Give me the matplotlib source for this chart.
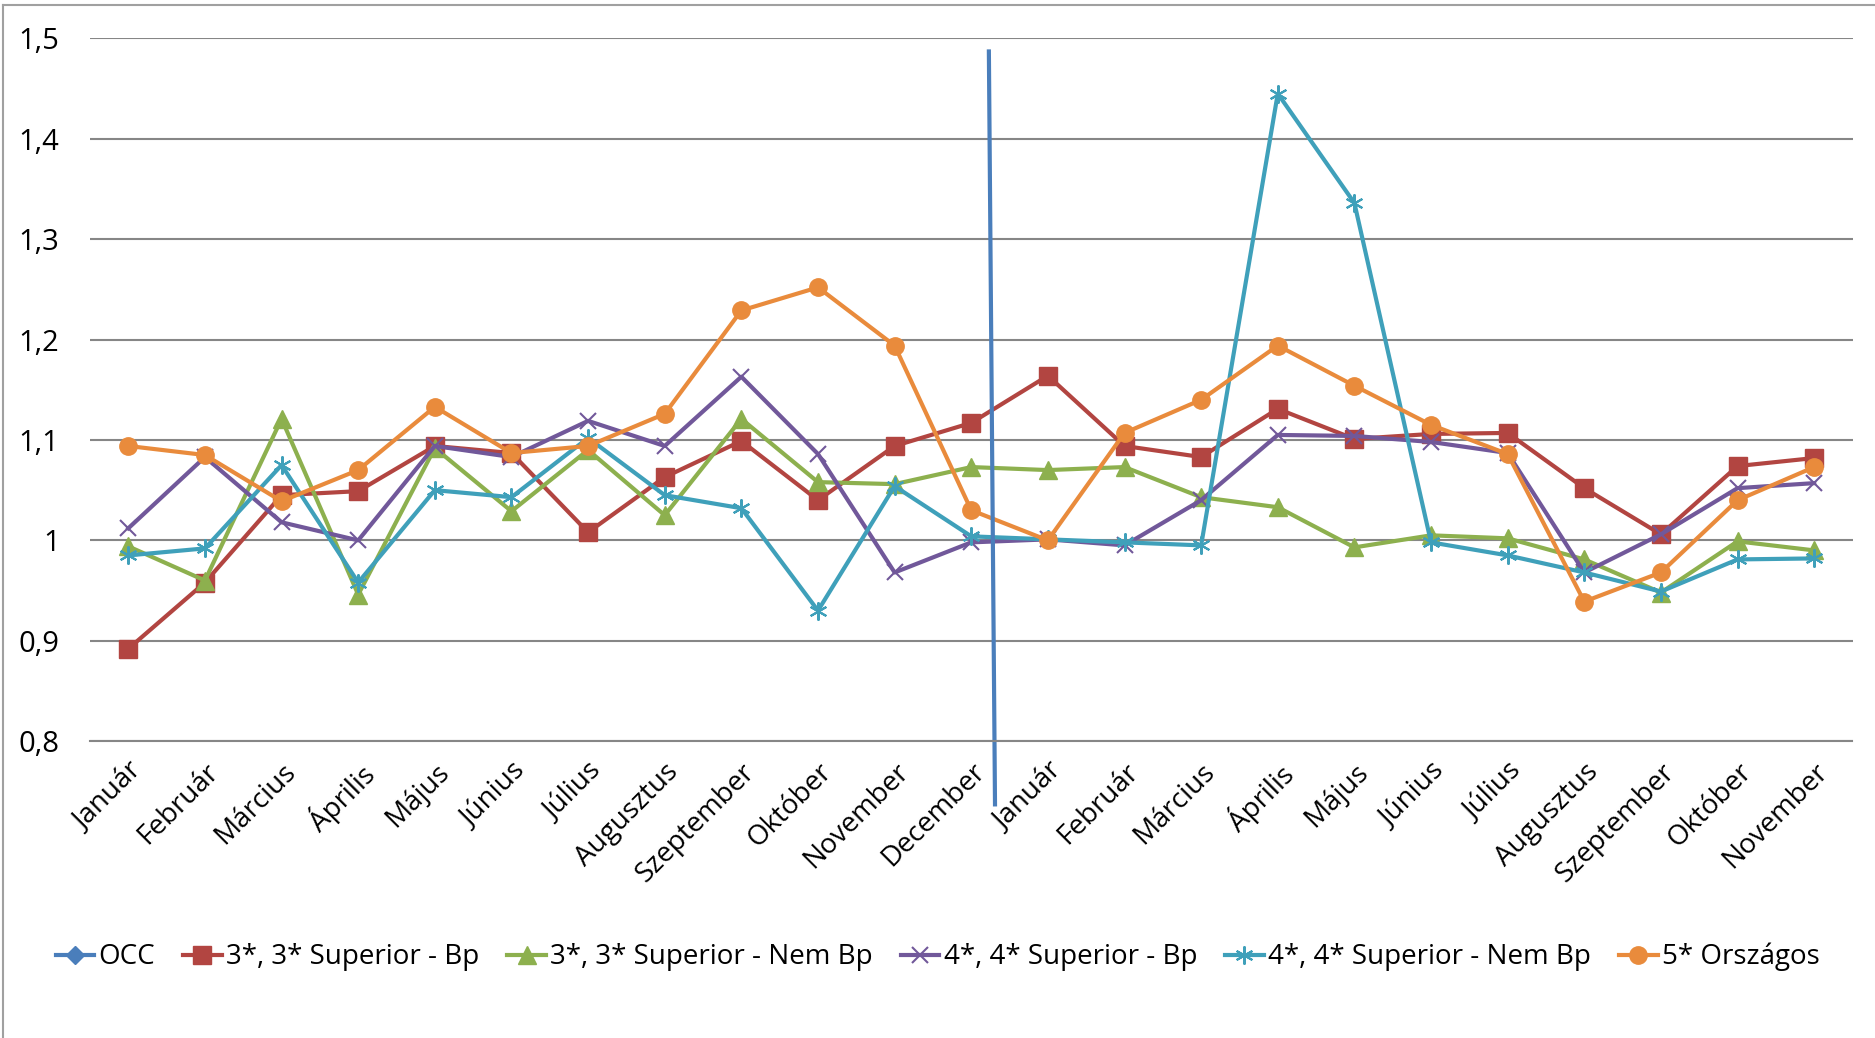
import numpy as np
import matplotlib
matplotlib.use("Agg")
import matplotlib.pyplot as plt
from matplotlib.lines import Line2D

months = ["Január", "Február", "Március", "Április", "Május", "Június", "Július",
          "Augusztus", "Szeptember", "Október", "November", "December",
          "Január", "Február", "Március", "Április", "Május", "Június", "Július",
          "Augusztus", "Szeptember", "Október", "November"]

occ = []
bp3 = [0.892, 0.958, 1.045, 1.049, 1.094, 1.087, 1.008, 1.063, 1.099, 1.040, 1.094, 1.117,
       1.164, 1.094, 1.083, 1.131, 1.101, 1.106, 1.107, 1.052, 1.006, 1.074, 1.082]
nembp3 = [0.994, 0.960, 1.121, 0.946, 1.092, 1.029, 1.090, 1.025, 1.121, 1.058, 1.056, 1.073,
          1.070, 1.073, 1.043, 1.033, 0.993, 1.005, 1.002, 0.981, 0.948, 0.999, 0.990]
bp4 = [1.012, 1.083, 1.018, 1.000, 1.094, 1.083, 1.119, 1.094, 1.163, 1.086, 0.968, 0.998,
       1.001, 0.995, 1.040, 1.105, 1.104, 1.098, 1.087, 0.968, 1.006, 1.052, 1.057]
nembp4 = [0.985, 0.992, 1.075, 0.958, 1.050, 1.043, 1.102, 1.045, 1.032, 0.930, 1.054, 1.004,
          1.001, 0.998, 0.995, 1.445, 1.336, 0.998, 0.985, 0.968, 0.949, 0.981, 0.982]
orsz5 = [1.094, 1.085, 1.039, 1.070, 1.133, 1.087, 1.094, 1.126, 1.229, 1.252, 1.194, 1.030,
         1.000, 1.107, 1.140, 1.194, 1.154, 1.115, 1.086, 0.939, 0.968, 1.040, 1.073]

labels = ["OCC", "3*, 3* Superior - Bp", "3*, 3* Superior - Nem Bp",
          "4*, 4* Superior - Bp", "4*, 4* Superior - Nem Bp", "5* Országos"]

# year separator line (hand drawn in the original, slightly slanted)
sep_x = [11.23, 11.31]
sep_y = [1.487, 0.737]

plt.rcParams['font.family'] = ['Open Sans', 'DejaVu Sans']

fig = plt.figure(figsize=(18.75, 10.38), dpi=100)
ax = fig.add_axes([0.048, 0.286, 0.940, 0.677])

x = np.arange(len(months))
ax.plot(occ, occ, color='#4A7EBB', marker='D', lw=3, ms=9, label=labels[0])
ax.plot(x, bp3, color='#B24541', marker='s', lw=3, ms=12.5, label=labels[1])
ax.plot(x, nembp3, color='#8DB04E', marker='^', lw=3, ms=12.5, label=labels[2])
ax.plot(x, bp4, color='#71589A', marker='x', mew=1.5, lw=3, ms=12, label=labels[3])
ax.plot(x, nembp4, color='#3FA0BA', marker=(6, 2, 0), mew=1.5, lw=3, ms=13, label=labels[4])
ax.plot(x, orsz5, color='#E98B3C', marker='o', lw=3, ms=12.5, label=labels[5])

ax.plot(sep_x, sep_y, color='#4A7EBB', lw=3, clip_on=False)

ax.set_xlim(-0.5, len(months) - 0.5)
ax.set_ylim(0.8, 1.5)
ax.set_yticks(np.arange(0.8, 1.51, 0.1))
ax.set_yticklabels(["0,8", "0,9", "1", "1,1", "1,2", "1,3", "1,4", "1,5"])
ax.set_xticks(x)
ax.set_xticklabels(months, rotation=45, ha='right', rotation_mode='anchor')
ax.tick_params(axis='x', length=0, labelsize=20, pad=12)
ax.tick_params(axis='y', length=0, labelsize=21, pad=22)
ax.grid(axis='y', color='#868686', lw=1.5)
ax.set_axisbelow(True)
for s in ['left', 'right', 'top']:
    ax.spines[s].set_visible(False)
ax.spines['bottom'].set_color('#868686')
ax.spines['bottom'].set_linewidth(1.5)

fig.legend(loc='center', bbox_to_anchor=(0.5, 0.078), ncol=6, frameon=False,
           fontsize=20, handlelength=1.4, handletextpad=0.15, columnspacing=1.0)

# chart frame
fig.add_artist(Line2D([0.0015, 0.0015], [0, 0.995], color='#A0A0A0', lw=1.5))
fig.add_artist(Line2D([0.0015, 1], [0.995, 0.995], color='#A0A0A0', lw=1.5))

fig.savefig("out.png", dpi=100)
